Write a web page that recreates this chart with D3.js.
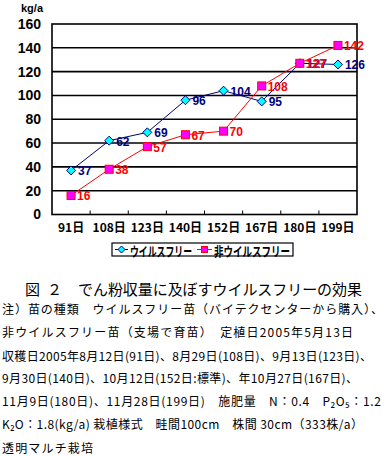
<!DOCTYPE html>
<html><head><meta charset="utf-8">
<script src="https://cdn.jsdelivr.net/npm/d3@7"></script>
<style>
html,body{margin:0;padding:0;background:#fff;}
svg{display:block;}
</style></head>
<body>
<svg id="c" width="391" height="456"></svg>
<script>
const categories = ["91日","108日","123日","140日","152日","167日","180日","199日"];
const virusFree = [37,62,69,96,104,95,127,126];
const nonVirusFree = [16,38,57,67,70,108,127,142];
const yTicks = [0,20,40,60,80,100,120,140,160];
const seriesNames = ["ウイルスフリー","非ウイルスフリー"];
const yUnit = "kg/a";
const noteLines = [
  "注）苗の種類　ウイルスフリー苗（バイテクセンターから購入）、",
  "非ウイルスフリー苗（支場で育苗）　定植日2005年5月13日",
  "収穫日2005年8月12日(91日)、8月29日(108日)、9月13日(123日)、",
  "9月30日(140日)、10月12日(152日:標準)、年10月27日(167日)、",
  "11月9日(180日)、11月28日(199日)　施肥量　N：0.4　P₂O₅：1.2",
  "K₂O：1.8(kg/a) 栽植様式　畦間100cm　株間 30cm（333株/a）",
  "透明マルチ栽培"
];

const svg = d3.select("#c");
const jp = "'Noto Sans CJK JP','Noto Sans',sans-serif";
const L = 52, R = 357, T = 24, B = 214.5;

const x = d3.scaleBand().domain(categories).range([L, R]);
const y = d3.scaleLinear().domain([0,160]).range([B, T]);

// gridlines
svg.append("g").selectAll("line").data(yTicks.filter(d=>d>0 && d<160)).join("line")
  .attr("x1",L).attr("x2",R).attr("y1",d=>y(d)).attr("y2",d=>y(d))
  .attr("stroke","#000").attr("stroke-width",1.6);
// frame
svg.append("rect").attr("x",L).attr("y",T).attr("width",R-L).attr("height",B-T)
  .attr("fill","none").attr("stroke","#000").attr("stroke-width",1.6);

// y axis labels
const yAxis = d3.axisLeft(y).tickValues(yTicks).tickSize(0).tickPadding(11);
const gy = svg.append("g").attr("transform",`translate(${L},0)`).call(yAxis);
gy.select(".domain").remove();
gy.selectAll("text").attr("font-family","'Liberation Sans',Arial,sans-serif")
  .attr("font-weight","bold").attr("font-size",14).attr("fill","#000");

svg.append("text").attr("x",32).attr("y",8).attr("text-anchor","middle")
  .attr("dominant-baseline","central").attr("font-family","'Liberation Sans',Arial,sans-serif")
  .attr("font-weight","bold").attr("font-size",11).text(yUnit);

// x axis
const xAxis = d3.axisBottom(x).tickSize(0).tickPadding(9);
const gx = svg.append("g").attr("transform",`translate(0,${B})`).call(xAxis);
gx.select(".domain").remove();
gx.selectAll("text").attr("font-family",jp).attr("font-weight","bold")
  .attr("font-size",12).attr("fill","#000");
// boundary ticks (inside)
svg.append("g").selectAll("line").data(categories.slice(1)).join("line")
  .attr("x1",d=>x(d)).attr("x2",d=>x(d)).attr("y1",B).attr("y2",B-4)
  .attr("stroke","#000").attr("stroke-width",1);

const cx = i => x(categories[i]) + x.bandwidth()/2;
const line = d3.line().x((d,i)=>cx(i)).y(d=>y(d));

// lines
svg.append("path").datum(virusFree).attr("d",line).attr("fill","none")
  .attr("stroke","#000080").attr("stroke-width",1);
svg.append("path").datum(nonVirusFree).attr("d",line).attr("fill","none")
  .attr("stroke","#FF0000").attr("stroke-width",1);

const diamond = (g,px,py,s) => g.append("path")
  .attr("d",`M${px},${py-s}L${px+s},${py}L${px},${py+s}L${px-s},${py}Z`)
  .attr("fill","#00FFFF").attr("stroke","#000080").attr("stroke-width",1);
const square = (g,px,py,s) => g.append("rect")
  .attr("x",px-s).attr("y",py-s).attr("width",2*s).attr("height",2*s)
  .attr("fill","#FF00FF").attr("stroke","#FF0000").attr("stroke-width",1);

const gm = svg.append("g");
virusFree.forEach((v,i)=>diamond(gm,cx(i),y(v),4.5));
nonVirusFree.forEach((v,i)=>square(gm,cx(i),y(v),4));

// labels
const lab = svg.append("g").attr("font-family","'Liberation Sans',Arial,sans-serif")
  .attr("font-weight","bold").attr("font-size",12);
lab.selectAll("text.vf").data(virusFree).join("text").attr("class","vf")
  .attr("x",(d,i)=>cx(i)+7).attr("y",d=>y(d)+1).attr("dominant-baseline","central")
  .attr("fill","#000080").text(d=>d);
lab.selectAll("text.nvf").data(nonVirusFree).join("text").attr("class","nvf")
  .attr("x",(d,i)=>cx(i)+6).attr("y",d=>y(d)+1).attr("dominant-baseline","central")
  .attr("fill","#FF0000").text(d=>d);

// legend
const lg = svg.append("g");
lg.append("rect").attr("x",112).attr("y",243).attr("width",181).attr("height",13)
  .attr("fill","#fff").attr("stroke","#000").attr("stroke-width",1.2);
lg.append("line").attr("x1",115).attr("x2",128).attr("y1",249.5).attr("y2",249.5).attr("stroke","#000080");
diamond(lg,121.5,249.5,3.5);
lg.append("text").attr("x",130).attr("y",250).attr("dominant-baseline","central")
  .attr("font-family",jp).attr("font-weight","bold").attr("font-size",13)
  .attr("textLength",62).attr("lengthAdjust","spacingAndGlyphs").text(seriesNames[0]);
lg.append("line").attr("x1",197).attr("x2",212).attr("y1",249.5).attr("y2",249.5).attr("stroke","#FF0000");
square(lg,204.5,249.5,3);
lg.append("text").attr("x",214).attr("y",250).attr("dominant-baseline","central")
  .attr("font-family",jp).attr("font-weight","bold").attr("font-size",13)
  .attr("textLength",76).attr("lengthAdjust","spacingAndGlyphs").text(seriesNames[1]);

// title
const tg = svg.append("g").attr("font-family",jp).attr("font-size",15).attr("fill","#000");
tg.append("text").attr("x",25).attr("y",288).attr("dominant-baseline","central")
  .attr("textLength",37).attr("lengthAdjust","spacing").text("図２");
tg.append("text").attr("x",78).attr("y",288).attr("dominant-baseline","central")
  .attr("textLength",284).attr("lengthAdjust","spacing").text("でん粉収量に及ぼすウイルスフリーの効果");

// notes
const noteY = [308,331,355,377,400,423,447];
const noteW = [381,351,370,356,379,361,91];
svg.append("g").attr("font-family",jp).attr("font-size",12).attr("fill","#000")
  .selectAll("text").data(noteLines).join("text")
  .attr("x",2).attr("y",(d,i)=>noteY[i]).attr("dominant-baseline","central")
  .attr("textLength",(d,i)=>noteW[i]).attr("lengthAdjust","spacing").text(d=>d);
</script>
</body></html>
